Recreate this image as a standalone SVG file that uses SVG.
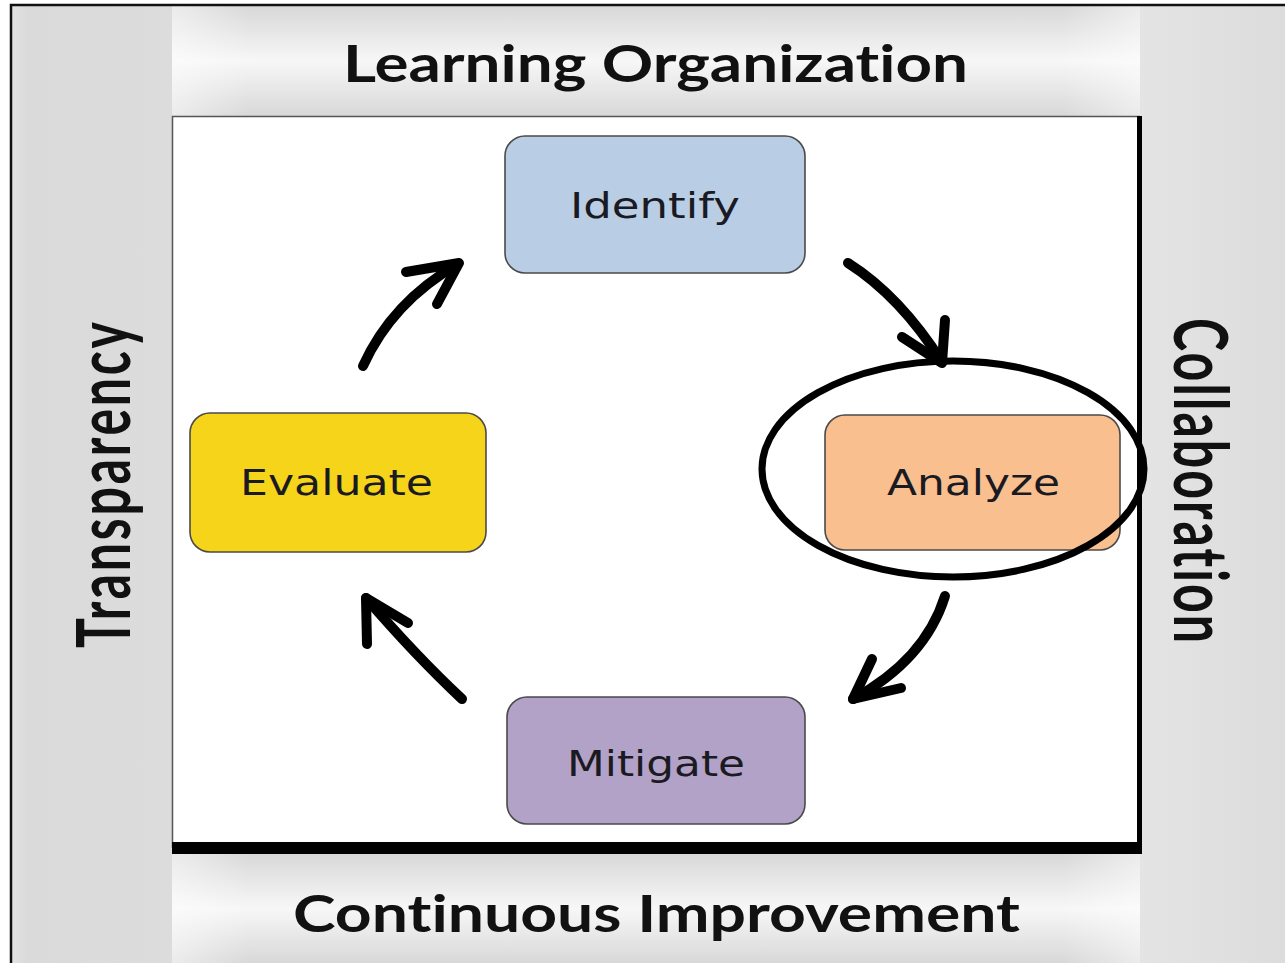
<svg xmlns="http://www.w3.org/2000/svg" width="1285" height="963" viewBox="0 0 1285 963">
  <defs>
    <linearGradient id="bandV" x1="0" y1="0" x2="0" y2="1">
      <stop offset="0" stop-color="#d8d8d8"/>
      <stop offset="0.5" stop-color="#f7f7f7"/>
      <stop offset="1" stop-color="#d8d8d8"/>
    </linearGradient>
    <linearGradient id="bandH" x1="0" y1="0" x2="1" y2="0">
      <stop offset="0" stop-color="#ffffff" stop-opacity="0.5"/>
      <stop offset="0.08" stop-color="#ffffff" stop-opacity="0"/>
      <stop offset="0.92" stop-color="#ffffff" stop-opacity="0"/>
      <stop offset="1" stop-color="#ffffff" stop-opacity="0.5"/>
    </linearGradient>
    <linearGradient id="sideV" x1="0" y1="0" x2="1" y2="0">
      <stop offset="0" stop-color="#e2e2e2"/>
      <stop offset="0.1" stop-color="#dadada"/>
      <stop offset="1" stop-color="#dcdcdc"/>
    </linearGradient>
    <linearGradient id="sideVR" x1="0" y1="0" x2="1" y2="0">
      <stop offset="0" stop-color="#e4e4e4"/>
      <stop offset="1" stop-color="#dcdcdc"/>
    </linearGradient>
  </defs>
  <style>
    .title, .side { font-family: Lato, "Liberation Sans", sans-serif; font-weight: 700; fill: #111111; font-variant-ligatures: none; font-feature-settings: "liga" 0, "clig" 0, "dlig" 0; }
    .box { stroke: #4a4a4a; stroke-width: 1.6; }
    .label { font-family: "DejaVu Sans", Verdana, sans-serif; font-size: 36px; fill: #1a1a22; }
    .arrow { fill: none; stroke: #000000; stroke-width: 10; stroke-linecap: round; stroke-linejoin: round; }
  </style>

  <!-- frame and backgrounds -->
  <rect x="0" y="0" width="1285" height="963" fill="#ffffff"/>
  <rect x="11" y="5" width="1274" height="958" fill="#dcdcdc"/>
  <rect x="12" y="6" width="160" height="957" fill="url(#sideV)"/>
  <rect x="1140" y="6" width="145" height="957" fill="url(#sideVR)"/>
  <rect x="172" y="6" width="968" height="110" fill="url(#bandV)"/>
  <rect x="172" y="6" width="968" height="110" fill="url(#bandH)"/>
  <rect x="172" y="854" width="968" height="109" fill="url(#bandV)"/>
  <rect x="172" y="854" width="968" height="109" fill="url(#bandH)"/>
  <path d="M11,963 V5 H1285" fill="none" stroke="#111111" stroke-width="2.5"/>

  <!-- central panel -->
  <rect x="172" y="116" width="968" height="732" fill="#ffffff"/>
  <path d="M172.5,848 V116.5 H1140" fill="none" stroke="#555555" stroke-width="1.5"/>
  <rect x="1137" y="116" width="5" height="738" fill="#000000"/>
  <rect x="172" y="842" width="970" height="12" fill="#000000"/>

  <!-- band titles -->
  <text class="title" x="343" y="82" font-size="52" textLength="625" lengthAdjust="spacingAndGlyphs">Learning Organization</text>
  <text class="title" x="293" y="932" font-size="52" textLength="727" lengthAdjust="spacingAndGlyphs">Continuous Improvement</text>
  <text class="side" transform="translate(130,648) rotate(-90) scale(1,1.5)" font-size="50" textLength="326" lengthAdjust="spacing">Transparency</text>
  <text class="side" transform="translate(1174,318) rotate(90) scale(1,1.5)" font-size="50" textLength="325" lengthAdjust="spacing">Collaboration</text>

  <!-- cycle steps -->
  <g id="identify">
    <rect class="box" x="505" y="136" width="300" height="137" rx="20" fill="#b9cde5"/>
    <text class="label" x="570" y="218" textLength="170" lengthAdjust="spacingAndGlyphs">Identify</text>
  </g>
  <g id="analyze">
    <rect class="box" x="825" y="415" width="295" height="135" rx="20" fill="#f9bf8f" stroke="#6b4a2e"/>
    <text class="label" x="887" y="495" textLength="173" lengthAdjust="spacingAndGlyphs">Analyze</text>
  </g>
  <g id="mitigate">
    <rect class="box" x="507" y="697" width="298" height="127" rx="20" fill="#b3a2c7"/>
    <text class="label" x="567" y="776" textLength="178" lengthAdjust="spacingAndGlyphs">Mitigate</text>
  </g>
  <g id="evaluate">
    <rect class="box" x="190" y="413" width="296" height="139" rx="20" fill="#f5d419"/>
    <text class="label" x="240" y="495" textLength="193" lengthAdjust="spacingAndGlyphs">Evaluate</text>
  </g>

  <!-- highlight ring -->
  <g id="highlight">
    <ellipse cx="953" cy="469" rx="191" ry="108" fill="none" stroke="#000000" stroke-width="7"/>
  </g>

  <!-- connectors -->
  <g id="connectors">
    <path class="arrow" d="M363,366 Q392,302 458,264"/>
    <path class="arrow" d="M406,272 L459,263 L437,304"/>
    <path class="arrow" d="M848,263 Q900,296 942,362"/>
    <path class="arrow" d="M902,337 L942,363 L945,320"/>
    <path class="arrow" d="M945,596 Q925,660 853,699"/>
    <path class="arrow" d="M872,659 L853,699 L901,688"/>
    <path class="arrow" d="M462,699 Q416,656 366,598"/>
    <path class="arrow" d="M367,644 L366,598 L408,623"/>
  </g>
</svg>
